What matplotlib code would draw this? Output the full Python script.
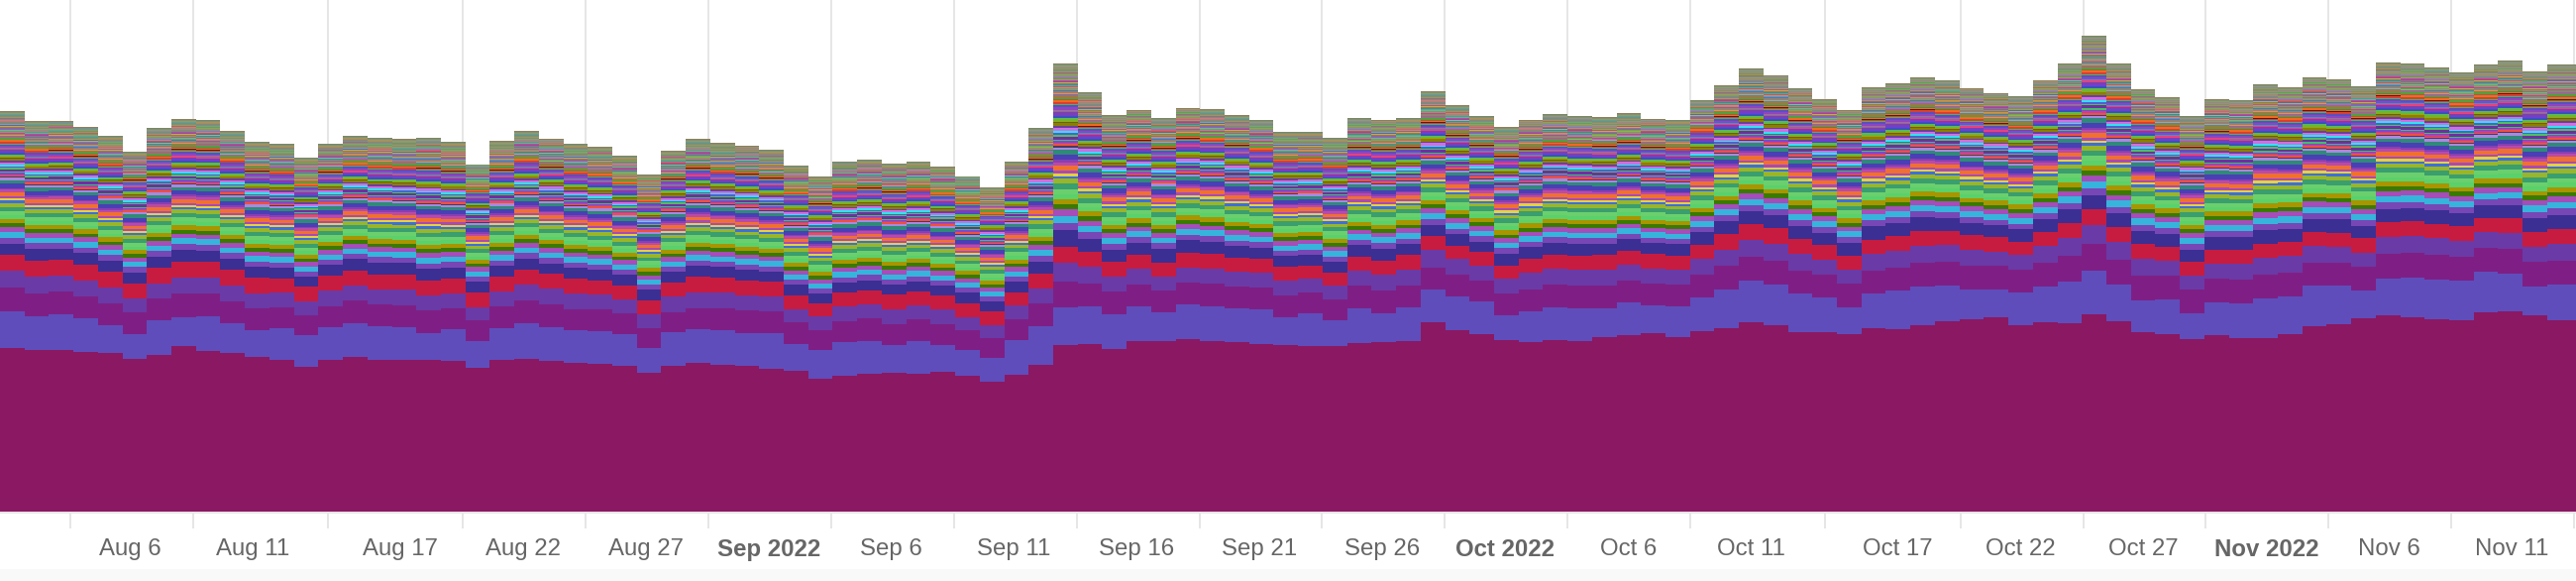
import matplotlib
matplotlib.use("Agg")
import matplotlib.pyplot as plt
import matplotlib.dates as mdates
from matplotlib.patches import Rectangle
import numpy as np
import pandas as pd

# Stack tops, one value per day
maroon_top = [166.3,163.7,163.7,162,161.3,155,158.7,168,163,161,157,153.7,147,153.7,156.7,154,153.7,154,153,146,
    153.7,155,153,150.7,150.3,148,141,148,151,148.7,147.7,145.3,143.3,135.3,137.7,140,141.3,140.3,141.7,137.7,
    132,138.7,148.7,169,169.7,165,173,173,175,173,171.7,170,169,167.7,168.3,171,172,173.3,192,183.7,
    179.7,173.7,172.3,173.7,173,176.7,178.7,181,177.3,183,186,192,189,181.7,182,180.3,186,184.7,188.7,193,
    195,197,188.7,192,191.3,200,193,181.7,179.7,174.7,178.7,176,175.7,179.7,187.7,190,195.7,199,197,194.7,
    194.3,202.3,203,199,193.7]
indigo_top = [203,197.7,200,196,189,180,193.7,197,198.3,190.7,184,185.7,178.7,186.7,191,187.7,186.7,181.3,184.7,172.7,
    186.3,191,187.3,183.7,183,180,166,181.7,185,183.7,181,181,170,163.7,172,173.3,169,172.7,169,163.7,
    156.3,173.7,188,207,207.7,200.3,207.7,202,210,208,205.7,205,197,201,193.7,206,201.3,207,224.7,217.7,
    212.7,199,203,207,206.3,205.7,212,208.7,208,217.3,225,234,230,221,217,207,221.3,223.7,228,229.3,
    225.3,225.3,222,227.7,233,243.7,230.3,214,215.3,201,212,211,215.7,218,228.7,228.7,224,236,237,235,
    234.3,243,241.3,228,230]
purple_top = [227,221.3,222.7,218.3,211.3,202,215.7,220.7,221,213,206.3,207,199.3,208,213.7,209.7,209,203.7,206.3,194,
    208,214,209.7,205.3,204.7,201,186.3,202,206.3,206,203.7,203,191.7,184.3,193.3,195.7,190,194.7,190,184.3,
    176,194.7,211,233,230.7,222.7,230.3,224,231.7,231,228,227,219,221.7,215.3,229,224,228.7,247,239.7,
    234.3,221.3,225.3,229.7,229,229,234,231,230.3,240,249,258,254,244.3,240,231,244.3,247.3,252,253,
    249,248.7,245.3,251.7,259.3,271.3,255,239,239,224.7,236,235,239.7,242,252,252.3,248.3,261,261.7,260,
    258.3,266.7,266,252.7,254.3]
violet_top = [243.7,238,239,234.3,227,216,231,237,237.3,229,221.3,221.7,213,223.7,229,225.3,225,219.3,221,207.3,
    223,230,225.7,221.3,219.7,215,200,217.7,222.3,221.7,218.7,217.7,205,197.7,207.7,209.7,205,208.7,204.7,197.3,
    189,208.7,226.3,251.7,248,238.3,245.7,238,247,245.7,243.3,242,234,235.7,229,243.7,239.7,245.3,264.7,255.7,
    249,235.7,241.7,245.7,245,245.3,250.3,246,245,255.7,265.3,275.3,271.3,261.3,255.3,245,261,264.3,269,269.7,
    265.3,263.3,259.7,268.7,277,289.7,273,255.7,254.3,238.7,251,251,257,259,269,267.7,262.3,277.7,278.7,276.7,
    274.3,283,282,268,271]
red_top = [259.7,253.7,255,250,242.7,231.3,247,253,253.3,244.7,237,236,227.7,239,244,240.3,240,234,235.7,221.7,
    237.7,245.3,241,236,234.3,229.3,214.3,231.7,237.7,237,233.7,233,219,211,221.7,223.7,219.7,223,218.7,211,
    202.7,222,241,268,262.7,252.7,260,252,261.7,260.7,257.3,256,248,249.3,242,257.7,253.7,259.7,278.7,269.3,
    263,249.3,256,259.7,259,259.7,264,260.7,258.7,270,280.7,291,286.7,276.3,269.7,259,275.3,279,284.3,284.3,
    279.7,277.7,273,283,292.3,305.7,288.3,270.7,268.3,252.7,265,265,271.3,273,283,282,276.7,292.7,293.7,291.3,
    289,297,297,283.3,286]
navy_top = [271.3,266,266.3,262,254.3,242.3,258,265.3,264.3,256,248,247,238,250,255.7,252.3,252,245.7,247.3,233,
    249,256,251.3,247,245,240,225.3,242.7,248.7,247.7,244.7,243,229.7,221,232,234.3,230,233.3,229,221.7,
    212.7,233,253,285,276.3,265,272,266,274.7,273,268.7,267,258.7,260,253,269.7,266.3,271,290,280.7,
    273.3,261,267.7,272,271.3,271.3,275.7,272,270.7,282.7,294,304,300,289.3,282.3,272,288.7,292,297.7,297,
    292,289.7,285.7,296,306,320.3,302,284.3,281,265,278,278,284.7,286.3,296,295.7,289,306.3,307,305,
    302,310.3,310.3,297,300]
total_top = [404.7,394.7,395,389,379.7,363.7,387.7,396.7,396,384.7,373.7,371.7,357.7,371.7,379.7,377.7,376.7,377.7,373.7,351.3,
    374.7,384.7,377.3,371.7,368.7,359.7,340.7,364.7,376.7,372.7,370.3,365.7,349.7,338.7,354,355.7,351.7,353.7,348.7,339.3,
    327.7,353.7,387.7,452.7,423.7,400.7,406.3,397.7,408.3,406.7,400.7,395.7,383.7,383.7,377.7,397.7,396.3,397.7,424.7,410.7,
    399.7,388.7,396.3,401.7,399.7,398.7,402.7,397.3,395.7,415.7,430.7,447.7,441.3,427.7,417,406.3,428.7,432.7,438.7,436,
    428.3,423.3,419.7,436.3,452.7,481,452.7,426.7,418.7,399.7,416.7,415.7,431.7,428.7,438.7,436.7,429.7,454.3,452.7,449,
    443.7,451.7,455.7,444.7,451.7]

main_tops = [maroon_top, indigo_top, purple_top, violet_top, red_top, navy_top]
main_colors = ["#8b1862", "#5f4dbb", "#7f1f85", "#6a3aa6", "#c71c40", "#3b2f93"]

# Thin series above the navy one, bottom to top, with their share of that band
stripe_colors = ["#7747b5","#36b4dc","#a54db8","#3a7a00","#a89500","#5ad16a","#6bcf6e","#3a9e6e","#99b52a","#3d6fdb",
    "#e3d23f","#a94ab5","#f07030","#b94aa8","#8a3fb0","#4a3fb5","#2f8a78","#a988e0","#4a3a60","#f0503a",
    "#c040a0","#7a4ad0","#3fbf6a","#6f2fa0","#4fbf5f","#5060d0","#2fe3ee","#cf6fe0","#6a3fa0","#8a8000",
    "#6c6010","#a8a000","#5dbb45","#3a50c0","#6f3fd0","#7a40b0","#e8417a","#4a90c0","#8e45c0","#5a4fc0",
    "#50b060","#d84030","#3a2820","#f06a20","#a06040","#50a040","#d0603f","#5f78d0","#a8b04a","#e05a80",
    "#48a868","#7a5fc0","#e07a3a","#45a8b0","#a0a850","#c04f98","#62b048","#4080d0","#cf6048","#90c060",
    "#6f58c0","#e03f78","#70b078","#b07a48","#4f98b0","#d06a98","#68a860","#b09060","#5f9a88","#c05a70",
    "#80a848","#a07a90","#58a070","#b08a58","#7a90a0","#a0946a","#6f9a78","#8f7f60"]
stripe_shares = [6.5,6.5,5.5,4.5,5,4.5,4.5,5,4.5,2.5,
    2.5,2.5,4.5,3,2,5,4,2.5,1,2,
    1.2,1.5,1.2,3,1.5,1.5,2,2.5,2,2.5,
    0.8,1,2.5,2,1.5,2,1.5,1,2,2,
    1,1.5,0.7,1.5,1,2,1,0.9,0.9,0.9,
    1,1,0.9,0.9,1,0.9,0.9,0.9,0.9,1,
    0.9,0.9,0.9,0.9,0.9,0.9,1,1,1,0.9,
    1,0.9,0.9,0.9,0.9,1,0.9,1]

days = pd.date_range("2022-08-03", periods=len(total_top))

tick_dates = ["2022-08-06 00:00","2022-08-11 00:00","2022-08-16 12:00","2022-08-22 00:00","2022-08-27 00:00",
    "2022-09-01 00:00","2022-09-06 00:00","2022-09-11 00:00","2022-09-16 00:00","2022-09-21 00:00","2022-09-26 00:00",
    "2022-10-01 00:00","2022-10-06 00:00","2022-10-11 00:00","2022-10-16 12:00","2022-10-22 00:00","2022-10-27 00:00",
    "2022-11-01 00:00","2022-11-06 00:00","2022-11-11 00:00","2022-11-16 00:00"]
label_dates = ["2022-08-06","2022-08-11","2022-08-17","2022-08-22","2022-08-27","2022-09-01","2022-09-06",
    "2022-09-11","2022-09-16","2022-09-21","2022-09-26","2022-10-01","2022-10-06","2022-10-11","2022-10-17",
    "2022-10-22","2022-10-27","2022-11-01","2022-11-06","2022-11-11"]
labels = ["Aug 6","Aug 11","Aug 17","Aug 22","Aug 27","Sep 2022","Sep 6","Sep 11","Sep 16","Sep 21","Sep 26",
    "Oct 2022","Oct 6","Oct 11","Oct 17","Oct 22","Oct 27","Nov 2022","Nov 6","Nov 11"]

plt.rcParams["font.family"] = ["Liberation Sans", "DejaVu Sans"]

fig = plt.figure(figsize=(26, 5.86), dpi=100)
ax = fig.add_axes([0, 69 / 586, 1, 517 / 586])

# The columns run a little tighter than the date ticks
x0 = mdates.date2num(days[0]) + 0.15
x = x0 + np.arange(len(days)) * 0.9976
larguras = np.full(len(days), 0.9976)
larguras[-1] = 1.2

# Big series
bottom = np.zeros(len(days))
for top, cor in zip(main_tops, main_colors):
    top = np.array(top)
    ax.bar(x, top - bottom, bottom=bottom, width=larguras, align="edge", color=cor, linewidth=0, antialiased=False)
    bottom = top

# Thin series
band = np.array(total_top) - bottom
shares = np.array(stripe_shares) / sum(stripe_shares)
for share, cor in zip(shares, stripe_colors):
    ax.bar(x, band * share, bottom=bottom, width=larguras, align="edge", color=cor, linewidth=0, antialiased=False)
    bottom = bottom + band * share

ax.set_xlim(x0, x0 + 2600 / 24.78)
ax.set_ylim(0, 517)
ax.set_yticks([])

for lado in ["top", "left", "right"]:
    ax.spines[lado].set_visible(False)
ax.spines["bottom"].set_color("#e6e6e6")
ax.spines["bottom"].set_linewidth(1.44)

ax.set_xticks(mdates.date2num(pd.to_datetime(tick_dates)))
ax.set_xticklabels([])
ax.tick_params(axis="x", which="major", length=11.5, width=1.44, color="#e6e6e6")
ax.grid(axis="x", which="major", color="#e6e6e6", linewidth=1.44)
ax.set_axisbelow(True)

# Labels sit to the right of their tick
ax.set_xticks(mdates.date2num(pd.to_datetime(label_dates)) + 2.46, minor=True)
ax.set_xticklabels(labels, minor=True)
ax.tick_params(axis="x", which="minor", length=0, pad=19, labelsize=17.3, labelcolor="#666666")
for lab in ax.get_xticklabels(minor=True):
    if "2022" in lab.get_text():
        lab.set_fontweight("bold")

# Light strip at the bottom of the page
fig.add_artist(Rectangle((0, 0), 1, 12 / 586, transform=fig.transFigure, facecolor="#f9f9f9", edgecolor="none"))

fig.savefig("out.png", dpi=100)
